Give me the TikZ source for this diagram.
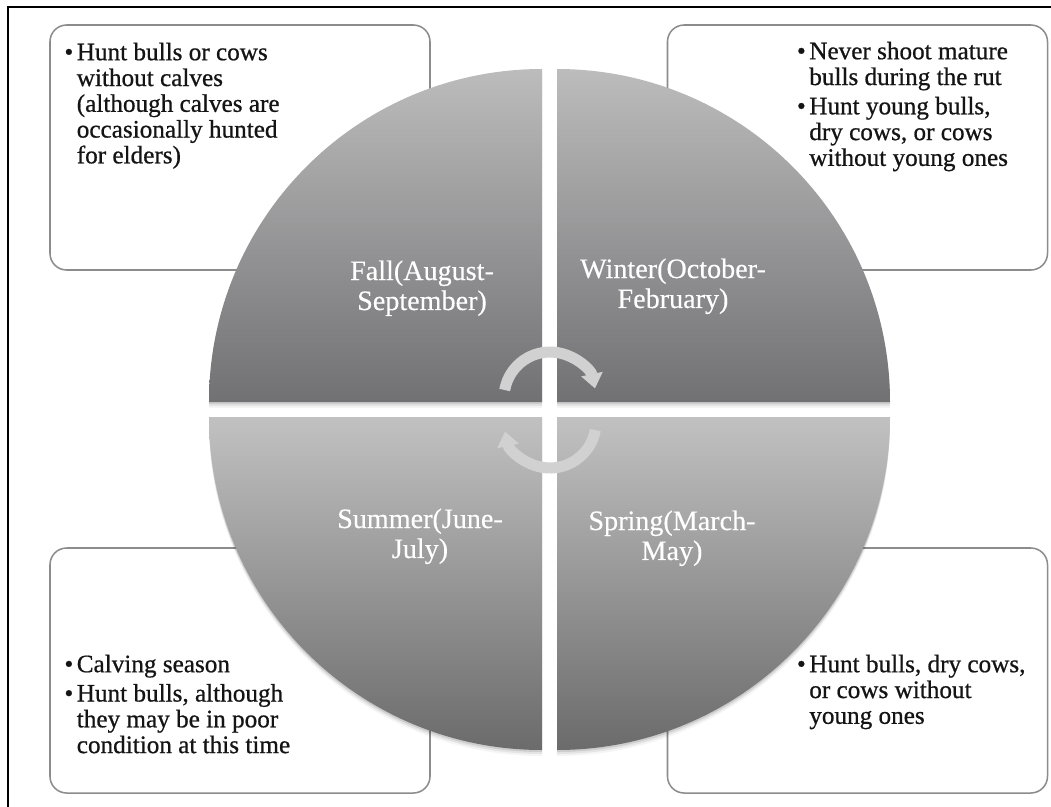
\documentclass[tikz,border=0pt]{standalone}
\usepackage{fontspec}
\setmainfont{Liberation Serif}
\newfontfamily\heavyserif{Liberation Serif}[FakeBold=0.7]
\newfontfamily\labelserif{Liberation Serif}[FakeBold=0.3]
\usepackage{xcolor}
\usepackage{tikz}
\usetikzlibrary{calc,positioning,arrows.meta}

\definecolor{upperlight}{HTML}{BCBCBC}
\definecolor{upperdark}{HTML}{717174}
\definecolor{lowerlight}{HTML}{C1C1C1}
\definecolor{lowermid}{HTML}{A9A9A9}
\definecolor{lowerdark}{HTML}{6B6B6B}

\tikzset{
  seasonbox/.style={draw=black!45, line width=1.3pt, rounded corners=0.5cm,
    fill=white, minimum width=11.4cm, minimum height=7.35cm, inner sep=0pt},
  bullettext/.style={anchor=base west, inner sep=0pt, text=black!92,
    font=\heavyserif\fontsize{21.5pt}{22pt}\selectfont},
  seasonlabel/.style={anchor=base, inner sep=0pt, text=white,
    font=\labelserif\fontsize{24pt}{25.6pt}\selectfont},
  quadshadow/.style={fill=black, opacity=#1},
  cyclearrow/.style={draw=black!18, line width=9.4pt,
    -{Triangle[width=18pt,length=12.5pt]}}
}

\begin{document}
\begin{tikzpicture}[x=0.03cm,y=0.03cm]
\useasboundingbox (0,0) rectangle (1051,-807);

% =====================
% Frame (only top and left edge show)
% =====================
\draw[line width=1.7pt] (8,-807) -- (8,-7) -- (1051,-7);

% =====================
% Text boxes behind the circle
% =====================
\node[seasonbox] (fallbox) at (240,-147.5) {};
\node[seasonbox] (winterbox) at (857.5,-147.5) {};
\node[seasonbox] (summerbox) at (240,-670.5) {};
\node[seasonbox] (springbox) at (857.5,-670.5) {};

\node[bullettext] (falltext) at ([shift={(15,-36)}]fallbox.north west)
  {\begin{tabular}[t]{@{}l@{\hspace{3pt}}l@{}}
   \textbullet & Hunt bulls or cows\\
   & without calves\\
   & (although calves are\\
   & occasionally hunted\\
   & for elders)
   \end{tabular}};
\node[bullettext] (wintertext) at ([shift={(130,-35)}]winterbox.north west)
  {\begin{tabular}[t]{@{}l@{\hspace{3pt}}l@{}}
   \textbullet & Never shoot mature\\
   & bulls during the rut\\[3pt]
   \textbullet & Hunt young bulls,\\
   & dry cows, or cows\\
   & without young ones
   \end{tabular}};
\node[bullettext] (summertext) at ([shift={(15,-125)}]summerbox.north west)
  {\begin{tabular}[t]{@{}l@{\hspace{3pt}}l@{}}
   \textbullet & Calving season\\[3pt]
   \textbullet & Hunt bulls, although\\
   & they may be in poor\\
   & condition at this time
   \end{tabular}};
\node[bullettext] (springtext) at ([shift={(130,-125)}]springbox.north west)
  {\begin{tabular}[t]{@{}l@{\hspace{3pt}}l@{}}
   \textbullet & Hunt bulls, dry cows,\\
   & or cows without\\
   & young ones
   \end{tabular}};

% =====================
% The four quarters of the circle
% =====================
\def\rad{333}
\coordinate (QF) at (542,-402);
\coordinate (QW) at (557,-402);
\coordinate (QS) at (542,-417);
\coordinate (QP) at (557,-417);

% soft shadow
\foreach \d/\o in {2/0.10,4/0.07,6/0.04}{
  \fill[quadshadow=\o] ($(QF)+(0,-\d)$) -- ++(-\rad,0) arc[start angle=180,end angle=90,radius=\rad] -- cycle;
  \fill[quadshadow=\o] ($(QW)+(0,-\d)$) -- ++(0,\rad) arc[start angle=90,end angle=0,radius=\rad] -- cycle;
  \fill[quadshadow=\o] ($(QS)+(0,-\d)$) -- ++(-\rad,0) arc[start angle=180,end angle=270,radius=\rad] -- cycle;
  \fill[quadshadow=\o] ($(QP)+(0,-\d)$) -- ++(\rad,0) arc[start angle=0,end angle=-90,radius=\rad] -- cycle;
}

\shade[top color=upperlight, bottom color=upperdark]
  (QF) -- ++(-\rad,0) arc[start angle=180,end angle=90,radius=\rad] -- cycle;
\shade[top color=upperlight, bottom color=upperdark]
  (QW) -- ++(0,\rad) arc[start angle=90,end angle=0,radius=\rad] -- cycle;
\shade[top color=lowerlight, middle color=lowermid, bottom color=lowerdark]
  (QS) -- ++(-\rad,0) arc[start angle=180,end angle=270,radius=\rad] -- cycle;
\shade[top color=lowerlight, middle color=lowermid, bottom color=lowerdark]
  (QP) -- ++(\rad,0) arc[start angle=0,end angle=-90,radius=\rad] -- cycle;

% =====================
% Season names
% =====================
\node[seasonlabel] (fall) at (422,-280)
  {\begin{tabular}[t]{@{}c@{}}Fall(August-\\September)\end{tabular}};
\node[seasonlabel] (winter) at (673,-278)
  {\begin{tabular}[t]{@{}c@{}}Winter(October-\\February)\end{tabular}};
\node[seasonlabel] (summer) at (420,-528)
  {\begin{tabular}[t]{@{}c@{}}Summer(June-\\July)\end{tabular}};
\node[seasonlabel] (spring) at (672,-530)
  {\begin{tabular}[t]{@{}c@{}}Spring(March-\\May)\end{tabular}};

% =====================
% Cycle arrows in the middle
% =====================
\coordinate (upc) at (550,-398);
\coordinate (lowc) at (550,-422);
\draw[cyclearrow] (upc) ++(170:46) arc[start angle=170,end angle=12,radius=46];
\draw[cyclearrow] (lowc) ++(-10:46) arc[start angle=-10,end angle=-168,radius=46];
\end{tikzpicture}
\end{document}
